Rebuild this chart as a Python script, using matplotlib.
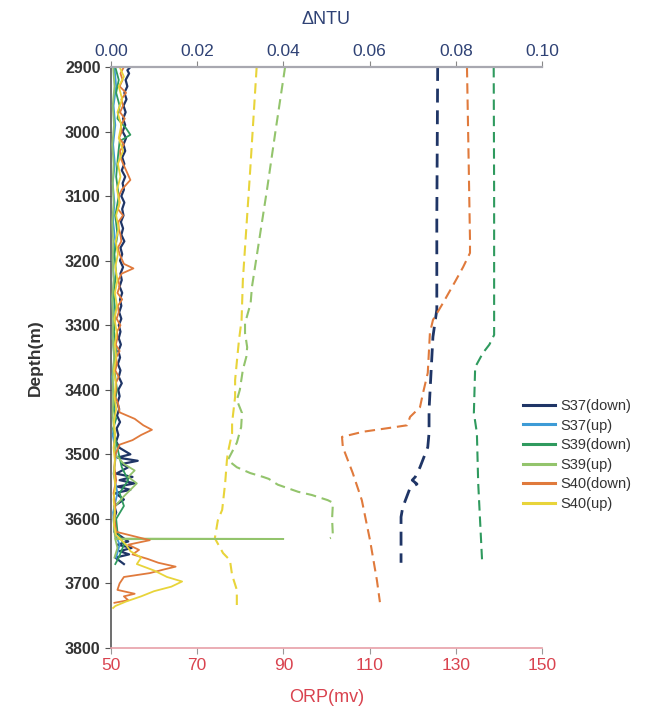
#Depth profiles of ORP and turbidity anomaly (dNTU)

import matplotlib
matplotlib.use('Agg')
import matplotlib.pyplot as plt

plt.rcParams['font.family'] = ['Liberation Sans', 'DejaVu Sans']

# ORP (mv) dashed profiles, pairs of (depth, orp)
s37_down_orp = [(2900, 125.8), (3137, 125.6), (3276, 125.6), (3318, 124.7), (3431, 123.8),
                (3467, 123.8), (3489, 123.5), (3520, 121.7), (3535, 120.6), (3540, 119.9),
                (3546, 121.0), (3552, 119.4), (3582, 117.7), (3597, 117.3), (3668, 117.3)]
s39_down_orp = [(2900, 138.8), (3100, 138.9), (3315, 138.9), (3330, 137.8), (3343, 136.3),
                (3365, 134.5), (3436, 134.2), (3467, 134.9), (3544, 135.2), (3664, 136.1)]
s39_up_orp = [(2900, 90.4), (2998, 88.2), (3090, 86.2), (3241, 82.7), (3266, 82.4),
              (3297, 81.1), (3312, 81.1), (3334, 81.6), (3349, 81.4), (3369, 80.6),
              (3400, 79.9), (3416, 79.2), (3436, 80.4), (3458, 80.2), (3482, 79.2),
              (3509, 77.1), (3520, 79.2), (3529, 82.3), (3535, 85.3), (3538, 86.6),
              (3547, 88.7), (3558, 93.4), (3563, 96.6), (3571, 100.3), (3575, 101.5),
              (3600, 101.3), (3628, 101.5), (3630, 100.8)]
s40_down_orp = [(2900, 132.6), (3050, 133.0), (3168, 133.3), (3188, 133.3), (3210, 131.7),
                (3233, 129.8), (3266, 127.0), (3292, 124.7), (3312, 124.0), (3374, 123.5),
                (3405, 122.4), (3427, 121.7), (3442, 119.4), (3455, 118.7), (3459, 114.7),
                (3465, 108.5), (3473, 103.6), (3489, 103.8), (3529, 106.1), (3571, 108.2),
                (3633, 110.1), (3695, 111.7), (3729, 112.4)]
s40_up_orp = [(2900, 83.8), (3060, 82.3), (3230, 80.6), (3272, 80.4), (3292, 80.3),
              (3323, 79.7), (3357, 79.2), (3385, 78.8), (3411, 78.8), (3451, 78.1),
              (3467, 78.1), (3498, 77.1), (3509, 76.9), (3544, 76.5), (3586, 75.8),
              (3602, 74.8), (3630, 74.1), (3653, 76.0), (3664, 77.6), (3687, 78.1),
              (3710, 79.2), (3736, 79.2)]

# dNTU solid profiles, pairs of (depth, dntu)
s37_down_ntu = [(2900, 0.0045), (2905, 0.0038), (2910, 0.0042), (2920, 0.0034), (2930, 0.0038),
                (2940, 0.0031), (2950, 0.0036), (2960, 0.0029), (2970, 0.0034), (2980, 0.0028),
                (2990, 0.0033), (3000, 0.0027), (3010, 0.0035), (3020, 0.0029), (3030, 0.0033),
                (3040, 0.0026), (3050, 0.0031), (3060, 0.0025), (3070, 0.0033), (3080, 0.0027),
                (3090, 0.0030), (3100, 0.0024), (3110, 0.0031), (3120, 0.0026), (3130, 0.0029),
                (3140, 0.0023), (3150, 0.0028), (3160, 0.0024), (3170, 0.0031), (3180, 0.0022),
                (3190, 0.0026), (3200, 0.0021), (3210, 0.0028), (3220, 0.0022), (3230, 0.0025),
                (3240, 0.0020), (3250, 0.0026), (3260, 0.0021), (3270, 0.0024), (3280, 0.0019),
                (3290, 0.0024), (3300, 0.0018), (3310, 0.0022), (3320, 0.0018), (3330, 0.0023),
                (3340, 0.0017), (3350, 0.0021), (3360, 0.0016), (3370, 0.0022), (3380, 0.0018),
                (3390, 0.0025), (3400, 0.0017), (3410, 0.0020), (3420, 0.0015), (3430, 0.0019),
                (3440, 0.0014), (3450, 0.0021), (3460, 0.0013), (3470, 0.0017), (3480, 0.0012),
                (3490, 0.0020), (3500, 0.0045), (3505, 0.0015), (3510, 0.0062), (3515, 0.0025),
                (3520, 0.0040), (3530, 0.0012), (3535, 0.0050), (3540, 0.0020), (3545, 0.0055),
                (3550, 0.0015), (3555, 0.0045), (3560, 0.0010), (3570, 0.0030), (3580, 0.0008),
                (3590, 0.0012), (3600, 0.0007), (3610, 0.0011), (3620, 0.0008), (3635, 0.0040),
                (3640, 0.0015), (3645, 0.0048), (3650, 0.0020), (3655, 0.0042), (3660, 0.0010),
                (3670, 0.0030)]
s37_up_ntu = [(2900, 0.0008), (2930, 0.0012), (2960, 0.0006), (2990, 0.0010), (3020, 0.0005),
              (3050, 0.0009), (3080, 0.0004), (3110, 0.0008), (3140, 0.0005), (3170, 0.0010),
              (3200, 0.0004), (3230, 0.0007), (3260, 0.0003), (3290, 0.0006), (3320, 0.0004),
              (3350, 0.0008), (3380, 0.0003), (3410, 0.0006), (3440, 0.0010), (3470, 0.0004),
              (3500, 0.0012), (3530, 0.0006), (3560, 0.0015), (3590, 0.0005), (3620, 0.0008),
              (3640, 0.0020), (3660, 0.0012)]
s39_down_ntu = [(2900, 0.0010), (2920, 0.0018), (2940, 0.0012), (2960, 0.0020), (2980, 0.0015),
                (2995, 0.0035), (3005, 0.0045), (3015, 0.0020), (3040, 0.0016), (3070, 0.0012),
                (3100, 0.0018), (3130, 0.0010), (3160, 0.0015), (3190, 0.0008), (3220, 0.0012),
                (3250, 0.0006), (3280, 0.0010), (3310, 0.0007), (3340, 0.0012), (3370, 0.0008),
                (3400, 0.0014), (3430, 0.0006), (3445, 0.0012), (3460, 0.0005), (3490, 0.0015),
                (3520, 0.0025), (3540, 0.0040), (3560, 0.0020), (3580, 0.0030), (3600, 0.0012),
                (3620, 0.0015), (3640, 0.0030), (3660, 0.0018), (3670, 0.0010)]
s39_up_ntu = [(2900, 0.0005), (2930, 0.0008), (2960, 0.0004), (2990, 0.0007), (3020, 0.0003),
              (3050, 0.0006), (3080, 0.0004), (3110, 0.0006), (3140, 0.0003), (3170, 0.0005),
              (3200, 0.0004), (3230, 0.0006), (3260, 0.0003), (3290, 0.0005), (3320, 0.0004),
              (3350, 0.0007), (3380, 0.0004), (3410, 0.0005), (3440, 0.0004), (3470, 0.0008),
              (3500, 0.0010), (3515, 0.0030), (3525, 0.0055), (3535, 0.0040), (3545, 0.0060),
              (3555, 0.0045), (3565, 0.0030), (3580, 0.0010), (3600, 0.0006), (3620, 0.0008),
              (3630.5, 0.0010), (3631, 0.0400), (3631.5, 0.0010), (3645, 0.0015), (3660, 0.0008)]
s40_down_ntu = [(2900, 0.0030), (2910, 0.0022), (2920, 0.0027), (2930, 0.0020), (2940, 0.0035),
                (2950, 0.0024), (2960, 0.0028), (2970, 0.0021), (2980, 0.0032), (2990, 0.0023),
                (3000, 0.0025), (3010, 0.0019), (3020, 0.0030), (3030, 0.0021), (3040, 0.0022),
                (3050, 0.0028), (3060, 0.0035), (3075, 0.0045), (3090, 0.0025), (3100, 0.0018),
                (3110, 0.0020), (3120, 0.0016), (3130, 0.0028), (3140, 0.0017), (3150, 0.0018),
                (3160, 0.0022), (3170, 0.0024), (3180, 0.0016), (3190, 0.0020), (3205, 0.0030),
                (3212, 0.0052), (3220, 0.0025), (3230, 0.0017), (3240, 0.0020), (3250, 0.0015),
                (3260, 0.0026), (3270, 0.0016), (3280, 0.0018), (3290, 0.0013), (3300, 0.0022),
                (3310, 0.0014), (3320, 0.0015), (3330, 0.0011), (3340, 0.0020), (3350, 0.0012),
                (3360, 0.0014), (3370, 0.0010), (3380, 0.0018), (3390, 0.0011), (3400, 0.0012),
                (3410, 0.0009), (3420, 0.0016), (3435, 0.0020), (3445, 0.0055), (3455, 0.0075),
                (3462, 0.0095), (3470, 0.0070), (3478, 0.0050), (3485, 0.0020), (3500, 0.0010),
                (3520, 0.0008), (3540, 0.0012), (3560, 0.0006), (3580, 0.0010), (3600, 0.0008),
                (3620, 0.0012), (3633, 0.0090), (3640, 0.0040), (3648, 0.0065), (3655, 0.0050),
                (3662, 0.0085), (3668, 0.0110), (3674, 0.0150), (3678, 0.0125), (3684, 0.0090),
                (3690, 0.0030), (3700, 0.0020), (3710, 0.0015), (3716, 0.0055), (3720, 0.0030),
                (3726, 0.0040), (3730, 0.0008)]
s40_up_ntu = [(2900, 0.0020), (2915, 0.0030), (2930, 0.0018), (2950, 0.0026), (2970, 0.0015),
              (2990, 0.0024), (3010, 0.0018), (3030, 0.0028), (3050, 0.0016), (3070, 0.0022),
              (3090, 0.0014), (3110, 0.0020), (3130, 0.0012), (3150, 0.0018), (3170, 0.0011),
              (3190, 0.0016), (3210, 0.0010), (3230, 0.0015), (3250, 0.0009), (3270, 0.0014),
              (3290, 0.0008), (3310, 0.0013), (3330, 0.0009), (3350, 0.0012), (3370, 0.0007),
              (3390, 0.0011), (3410, 0.0008), (3430, 0.0012), (3450, 0.0007), (3470, 0.0010),
              (3490, 0.0006), (3510, 0.0009), (3530, 0.0007), (3550, 0.0010), (3570, 0.0006),
              (3590, 0.0009), (3610, 0.0007), (3625, 0.0012), (3640, 0.0035), (3650, 0.0045),
              (3660, 0.0070), (3670, 0.0060), (3680, 0.0100), (3690, 0.0130), (3697, 0.0165),
              (3705, 0.0140), (3712, 0.0100), (3720, 0.0070), (3728, 0.0035), (3735, 0.0010),
              (3738, 0.0005)]

names = ['S37(down)', 'S37(up)', 'S39(down)', 'S39(up)', 'S40(down)', 'S40(up)']
colors = ['#1f3566', '#3d9bd6', '#2f9a5e', '#93c46c', '#e07a3c', '#e8d43a']
ntu_series = [s37_down_ntu, s37_up_ntu, s39_down_ntu, s39_up_ntu, s40_down_ntu, s40_up_ntu]
orp_series = [s37_down_orp, None, s39_down_orp, s39_up_orp, s40_down_orp, s40_up_orp]

depth_ticks = [2900, 3000, 3100, 3200, 3300, 3400, 3500, 3600, 3700, 3800]
orp_ticks = [50, 70, 90, 110, 130, 150]
ntu_ticks = [0.00, 0.02, 0.04, 0.06, 0.08, 0.10]


def unzip(pairs):
    d = [p[0] for p in pairs]
    v = [p[1] for p in pairs]
    return d, v


fig = plt.figure(figsize=(6.54, 7.12), dpi=100)
ax = fig.add_axes([0.1697, 0.0899, 0.659, 0.816])
ax2 = ax.twiny()

# ORP dashed lines on the bottom axis
for name, col, ser in zip(names, colors, orp_series):
    if ser is None:
        continue
    d, v = unzip(ser)
    lw = 2.0 if name == 'S37(down)' else 1.5
    ax.plot(v, d, color=col, lw=lw, dashes=(5, 2.8))

# dNTU solid lines on the top axis
handles = []
for name, col, ser in zip(names, colors, ntu_series):
    d, v = unzip(ser)
    lw = 1.6 if name == 'S37(down)' else 1.3
    h, = ax2.plot(v, d, color=col, lw=lw, label=name)
    handles.append(h)

ax.set_ylim(3800, 2900)
ax.set_xlim(50, 150)
ax2.set_xlim(0, 0.1)

ax.set_yticks(depth_ticks)
ax.set_xticks(orp_ticks)
ax2.set_xticks(ntu_ticks)
ax2.set_xticklabels(['%.2f' % t for t in ntu_ticks])

for a in (ax, ax2):
    a.spines['right'].set_visible(False)
ax.spines['top'].set_visible(False)
ax2.spines['bottom'].set_visible(False)
ax2.spines['left'].set_visible(False)
ax.spines['left'].set_color('#555555')
ax.spines['bottom'].set_color('#e8a0a8')
ax2.spines['top'].set_color('#a8a8b0')
for s in ('left', 'bottom'):
    ax.spines[s].set_linewidth(1.2)
ax2.spines['top'].set_linewidth(1.6)

ax.tick_params(axis='y', direction='out', length=4, color='#555555', labelsize=11.5,
               labelcolor='#333333')
ax.tick_params(axis='x', direction='out', length=4, color='#999999', labelsize=12.5,
               labelcolor='#d9434f')
ax2.tick_params(axis='x', direction='out', length=4, color='#888888', labelsize=12.5,
                labelcolor='#2f4275', pad=2)
for lab in ax.get_yticklabels():
    lab.set_fontweight('bold')

ax.set_ylabel('Depth(m)', fontsize=12.5, fontweight='bold', color='#333333', labelpad=16)
ax.set_xlabel('ORP(mv)', fontsize=13, color='#d9434f', labelpad=11)
ax2.set_xlabel('\u0394NTU', fontsize=13, color='#2f4275', labelpad=14)

leg = fig.legend(handles=handles, loc='upper left', bbox_to_anchor=(0.78, 0.458),
                 frameon=False, fontsize=10.5, handlelength=2.2, labelspacing=0.38,
                 handletextpad=0.35, labelcolor='#333333')
for line in leg.get_lines():
    line.set_linewidth(2.2)

fig.savefig('out.png', dpi=100)
